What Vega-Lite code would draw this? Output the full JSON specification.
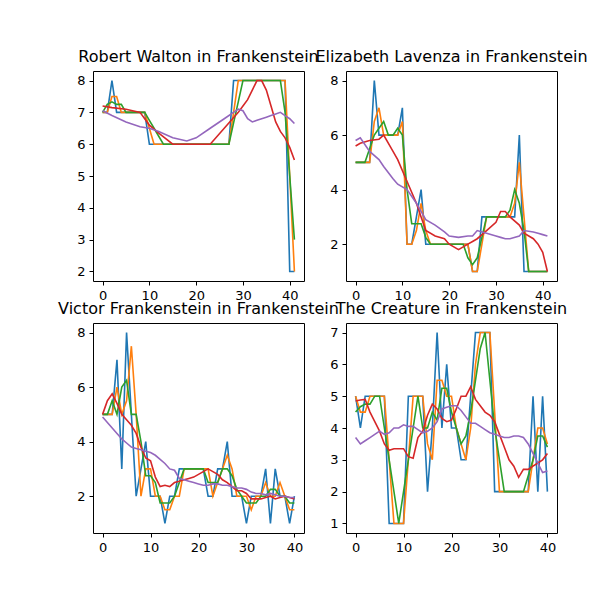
{
"$schema":"https://vega.github.io/schema/vega-lite/v6.json",
"padding":{"left":57,"top":48,"right":0,"bottom":0},
"autosize":{"type":"pad"},
"bounds":"flush",
"columns":2,
"spacing":{"row":42,"column":42},
"config":{
"view":{"stroke":"black","strokeWidth":1},
"font":"DejaVu Sans",
"title":{"fontSize":16,"fontWeight":"normal","color":"black","offset":6,"anchor":"middle","font":"DejaVu Sans"},
"axis":{"grid":false,"title":null,"domain":false,"tickColor":"black","tickSize":4,"labelFontSize":13,"labelColor":"black","labelPadding":4,"labelFont":"DejaVu Sans"},
"line":{"strokeWidth":1.6}
},
"datasets":{
"W":[
{"x":0,"b":7,"o":7,"g":7},{"x":1,"b":7,"o":7,"g":7.25},{"x":2,"b":8,"o":7.5,"g":7.33},{"x":3,"b":7,"o":7.5,"g":7.25},{"x":4,"b":7,"o":7,"g":7.25},{"x":5,"b":7,"o":7,"g":7},{"x":6,"b":7,"o":7,"g":7},{"x":7,"b":7,"o":7,"g":7},{"x":8,"b":7,"o":7,"g":7},{"x":9,"b":7,"o":7,"g":7},{"x":10,"b":6,"o":6.5,"g":6.75},{"x":11,"b":6,"o":6,"g":6.5},{"x":12,"b":6,"o":6,"g":6.25},{"x":13,"b":6,"o":6,"g":6},{"x":14,"b":6,"o":6,"g":6},{"x":15,"b":6,"o":6,"g":6},{"x":16,"b":6,"o":6,"g":6},{"x":17,"b":6,"o":6,"g":6},{"x":18,"b":6,"o":6,"g":6},{"x":19,"b":6,"o":6,"g":6},{"x":20,"b":6,"o":6,"g":6},{"x":21,"b":6,"o":6,"g":6},{"x":22,"b":6,"o":6,"g":6},{"x":23,"b":6,"o":6,"g":6},{"x":24,"b":6,"o":6,"g":6},{"x":25,"b":6,"o":6,"g":6},{"x":26,"b":6,"o":6,"g":6},{"x":27,"b":6,"o":6,"g":6},{"x":28,"b":8,"o":7,"g":6.67},{"x":29,"b":8,"o":8,"g":7.33},{"x":30,"b":8,"o":8,"g":8},{"x":31,"b":8,"o":8,"g":8},{"x":32,"b":8,"o":8,"g":8},{"x":33,"b":8,"o":8,"g":8},{"x":34,"b":8,"o":8,"g":8},{"x":35,"b":8,"o":8,"g":8},{"x":36,"b":8,"o":8,"g":8},{"x":37,"b":8,"o":8,"g":8},{"x":38,"b":8,"o":8,"g":8},{"x":39,"b":8,"o":8,"g":7},{"x":40,"b":2,"o":5,"g":5},{"x":41,"b":2,"o":2,"g":3},
{"x":0,"r":7.2,"p":7.05},{"x":2,"r":7.15,"p":6.9},{"x":5,"r":7.1,"p":6.7},{"x":8,"r":7.0,"p":6.55},{"x":10,"r":6.6,"p":6.5},{"x":12,"r":6.35,"p":6.4},{"x":15,"r":6.0,"p":6.2},{"x":18,"r":6.0,"p":6.1},{"x":20,"r":6.0,"p":6.2},{"x":23,"r":6.0,"p":6.5},{"x":26,"r":6.5,"p":6.8},{"x":29,"r":7.0,"p":7.1},{"x":30,"r":7.2,"p":7.05},{"x":31,"r":7.4,"p":6.8},{"x":32,"r":7.7,"p":6.7},{"x":33,"r":8.0,"p":6.75},{"x":34,"r":8.0,"p":6.8},{"x":35,"r":7.7,"p":6.85},{"x":36,"r":7.2,"p":6.9},{"x":37,"r":6.7,"p":6.95},{"x":38,"r":6.4,"p":7.0},{"x":39,"r":6.2,"p":6.9},{"x":40,"r":5.9,"p":6.8},{"x":41,"r":5.5,"p":6.65}
],
"E":[
{"x":0,"b":5,"o":5,"g":5},{"x":1,"b":5,"o":5,"g":5},{"x":2,"b":5,"o":5,"g":5},{"x":3,"b":5,"o":5,"g":5.5},{"x":4,"b":8,"o":6.5,"g":6},{"x":5,"b":6,"o":7,"g":6.25},{"x":6,"b":6,"o":6,"g":6.5},{"x":7,"b":6,"o":6,"g":6},{"x":8,"b":6,"o":6,"g":6},{"x":9,"b":6,"o":6,"g":6.25},{"x":10,"b":7,"o":6.5,"g":6},{"x":11,"b":2,"o":2,"g":4},{"x":12,"b":2,"o":2,"g":2.75},{"x":13,"b":3,"o":2.5,"g":2.75},{"x":14,"b":4,"o":3.5,"g":2.75},{"x":15,"b":2,"o":2.5,"g":2.25},{"x":16,"b":2,"o":2,"g":2},{"x":17,"b":2,"o":2,"g":2},{"x":18,"b":2,"o":2,"g":2},{"x":19,"b":2,"o":2,"g":2},{"x":20,"b":2,"o":2,"g":2},{"x":21,"b":2,"o":2,"g":2},{"x":22,"b":2,"o":2,"g":2},{"x":23,"b":2,"o":2,"g":2},{"x":24,"b":2,"o":2,"g":1.5},{"x":25,"b":1,"o":1,"g":1.25},{"x":26,"b":1,"o":1,"g":1.5},{"x":27,"b":3,"o":2,"g":2.25},{"x":28,"b":3,"o":3,"g":3},{"x":29,"b":3,"o":3,"g":3},{"x":30,"b":3,"o":3,"g":3},{"x":31,"b":3,"o":3,"g":3},{"x":32,"b":3,"o":3,"g":3},{"x":33,"b":3,"o":3,"g":3.25},{"x":34,"b":3,"o":3.5,"g":4},{"x":35,"b":6,"o":5,"g":3.5},{"x":36,"b":1,"o":3,"g":2.5},{"x":37,"b":1,"o":1,"g":1},{"x":38,"b":1,"o":1,"g":1},{"x":39,"b":1,"o":1,"g":1},{"x":40,"b":1,"o":1,"g":1},{"x":41,"b":1,"o":1,"g":1},
{"x":0,"r":5.6,"p":5.8},{"x":1,"r":5.7,"p":5.9},{"x":3,"r":5.8,"p":5.4},{"x":5,"r":5.85,"p":5.1},{"x":6,"r":6.0,"p":4.85},{"x":8,"r":5.4,"p":4.4},{"x":9,"r":5.1,"p":4.2},{"x":11,"r":4.3,"p":4.0},{"x":13,"r":3.5,"p":3.5},{"x":14,"r":3.0,"p":3.2},{"x":15,"r":2.5,"p":2.9},{"x":17,"r":2.3,"p":2.7},{"x":19,"r":2.2,"p":2.45},{"x":20,"r":2.0,"p":2.3},{"x":22,"r":1.8,"p":2.25},{"x":24,"r":2.0,"p":2.3},{"x":25,"r":2.1,"p":2.3},{"x":26,"r":2.2,"p":2.5},{"x":28,"r":2.5,"p":2.4},{"x":30,"r":2.8,"p":2.3},{"x":31,"r":3.2,"p":2.25},{"x":32,"r":3.2,"p":2.2},{"x":33,"r":3.0,"p":2.2},{"x":35,"r":2.7,"p":2.3},{"x":36,"r":2.4,"p":2.5},{"x":38,"r":2.2,"p":2.45},{"x":39,"r":2.0,"p":2.4},{"x":40,"r":1.7,"p":2.35},{"x":41,"r":1.0,"p":2.3}
],
"V":[
{"x":0,"b":5,"o":5,"g":5},{"x":1,"b":5,"o":5,"g":5},{"x":2,"b":5,"o":5,"g":5.5},{"x":3,"b":7,"o":6,"g":5},{"x":4,"b":3,"o":5,"g":6},{"x":5,"b":8,"o":5.5,"g":6.25},{"x":6,"b":5,"o":7.5,"g":5},{"x":7,"b":2,"o":5,"g":5},{"x":8,"b":3,"o":2,"g":4},{"x":9,"b":4,"o":3,"g":2.75},{"x":10,"b":2,"o":3,"g":2.75},{"x":11,"b":2,"o":2,"g":2.5},{"x":12,"b":2,"o":2,"g":1.75},{"x":13,"b":1,"o":1.5,"g":1.75},{"x":14,"b":2,"o":1.5,"g":1.75},{"x":15,"b":2,"o":2,"g":2},{"x":16,"b":3,"o":2,"g":2.5},{"x":17,"b":3,"o":3,"g":3},{"x":18,"b":3,"o":3,"g":3},{"x":19,"b":3,"o":3,"g":3},{"x":20,"b":3,"o":3,"g":3},{"x":21,"b":3,"o":3,"g":3},{"x":22,"b":2,"o":3,"g":2.5},{"x":23,"b":2,"o":2,"g":2.5},{"x":24,"b":3,"o":2.5,"g":2.5},{"x":25,"b":3,"o":3,"g":3},{"x":26,"b":4,"o":3.5,"g":3},{"x":27,"b":2,"o":3,"g":2.75},{"x":28,"b":2,"o":2,"g":2.25},{"x":29,"b":2,"o":2,"g":2},{"x":30,"b":1,"o":2,"g":1.75},{"x":31,"b":2,"o":1.5,"g":1.75},{"x":32,"b":2,"o":2,"g":1.75},{"x":33,"b":2,"o":2,"g":2},{"x":34,"b":3,"o":2.5,"g":2},{"x":35,"b":1,"o":2,"g":2.25},{"x":36,"b":3,"o":2,"g":2.25},{"x":37,"b":2,"o":2.5,"g":2},{"x":38,"b":2,"o":2,"g":2},{"x":39,"b":1,"o":1.5,"g":1.75},{"x":40,"b":2,"o":1.5,"g":1.75},
{"x":0,"r":5.0,"p":4.9},{"x":1,"r":5.5,"p":4.7},{"x":2,"r":5.75,"p":4.5},{"x":3,"r":5.4,"p":4.3},{"x":4,"r":5.0,"p":4.1},{"x":5,"r":4.8,"p":3.95},{"x":6,"r":4.6,"p":3.8},{"x":7,"r":4.3,"p":3.75},{"x":8,"r":3.8,"p":3.7},{"x":9,"r":3.4,"p":3.65},{"x":10,"r":3.3,"p":3.6},{"x":11,"r":2.7,"p":3.5},{"x":12,"r":2.35,"p":3.35},{"x":13,"r":2.4,"p":3.2},{"x":14,"r":2.35,"p":3.0},{"x":15,"r":2.5,"p":2.95},{"x":16,"r":2.55,"p":2.65},{"x":17,"r":2.6,"p":2.6},{"x":18,"r":2.65,"p":2.55},{"x":19,"r":2.7,"p":2.5},{"x":20,"r":2.8,"p":2.45},{"x":21,"r":2.9,"p":2.4},{"x":22,"r":3.0,"p":2.4},{"x":23,"r":2.9,"p":2.45},{"x":24,"r":2.8,"p":2.45},{"x":25,"r":2.6,"p":2.4},{"x":26,"r":2.5,"p":2.4},{"x":27,"r":2.35,"p":2.35},{"x":28,"r":2.2,"p":2.3},{"x":29,"r":2.2,"p":2.3},{"x":30,"r":2.1,"p":2.25},{"x":31,"r":1.9,"p":2.15},{"x":32,"r":1.9,"p":2.1},{"x":33,"r":1.9,"p":2.1},{"x":34,"r":1.95,"p":2.05},{"x":35,"r":2.0,"p":2.1},{"x":36,"r":1.9,"p":2.05},{"x":37,"r":1.95,"p":2.0},{"x":38,"r":2.0,"p":2.0},{"x":39,"r":1.95,"p":1.95},{"x":40,"r":1.9,"p":1.95}
],
"C":[
{"x":0,"b":5,"o":5,"g":4.5},{"x":1,"b":4,"o":4.5,"g":4.67},{"x":2,"b":5,"o":4.5,"g":4.75},{"x":3,"b":5,"o":5,"g":4.75},{"x":4,"b":5,"o":5,"g":5},{"x":5,"b":5,"o":5,"g":5},{"x":6,"b":5,"o":5,"g":4},{"x":7,"b":1,"o":3,"g":3},{"x":8,"b":1,"o":1,"g":2},{"x":9,"b":1,"o":1,"g":1},{"x":10,"b":1,"o":1,"g":2},{"x":11,"b":5,"o":3,"g":3},{"x":12,"b":5,"o":5,"g":4},{"x":13,"b":5,"o":5,"g":5},{"x":14,"b":5,"o":5,"g":4},{"x":15,"b":2,"o":3.5,"g":4},{"x":16,"b":4,"o":3,"g":4.5},{"x":17,"b":7,"o":5.5,"g":4.25},{"x":18,"b":4,"o":5.5,"g":5.25},{"x":19,"b":6,"o":5,"g":5.25},{"x":20,"b":4,"o":5,"g":4.5},{"x":21,"b":4,"o":4,"g":4},{"x":22,"b":3,"o":3.5,"g":3.5},{"x":23,"b":3,"o":3,"g":3.75},{"x":24,"b":5,"o":4,"g":4.5},{"x":25,"b":7,"o":6,"g":5.5},{"x":26,"b":7,"o":7,"g":6.5},{"x":27,"b":7,"o":7,"g":7},{"x":28,"b":7,"o":7,"g":5.5},{"x":29,"b":2,"o":4.5,"g":4},{"x":30,"b":2,"o":2,"g":3},{"x":31,"b":2,"o":2,"g":2},{"x":32,"b":2,"o":2,"g":2},{"x":33,"b":2,"o":2,"g":2},{"x":34,"b":2,"o":2,"g":2},{"x":35,"b":2,"o":2,"g":2},{"x":36,"b":2,"o":2,"g":2.5},{"x":37,"b":5,"o":3,"g":3},{"x":38,"b":2,"o":4,"g":3.75},{"x":39,"b":5,"o":4,"g":3.75},{"x":40,"b":2,"o":3.5,"g":3.4},
{"x":0,"r":4.85,"p":3.7},{"x":1,"r":4.88,"p":3.5},{"x":2,"r":4.9,"p":3.6},{"x":3,"r":4.5,"p":3.7},{"x":4,"r":4.2,"p":3.8},{"x":5,"r":3.9,"p":3.9},{"x":6,"r":3.5,"p":3.8},{"x":7,"r":3.3,"p":3.85},{"x":8,"r":3.35,"p":4.0},{"x":9,"r":3.35,"p":4.0},{"x":10,"r":3.35,"p":4.1},{"x":11,"r":3.1,"p":4.05},{"x":12,"r":3.05,"p":4.05},{"x":13,"r":3.7,"p":3.95},{"x":14,"r":3.9,"p":3.85},{"x":15,"r":4.4,"p":3.9},{"x":16,"r":4.75,"p":4.0},{"x":17,"r":4.6,"p":4.2},{"x":18,"r":4.3,"p":4.6},{"x":19,"r":4.2,"p":4.65},{"x":20,"r":4.25,"p":4.7},{"x":21,"r":4.6,"p":4.7},{"x":22,"r":5.0,"p":4.55},{"x":23,"r":5.0,"p":4.35},{"x":24,"r":5.3,"p":4.15},{"x":25,"r":4.9,"p":4.15},{"x":26,"r":4.7,"p":4.05},{"x":27,"r":4.5,"p":3.95},{"x":28,"r":4.4,"p":3.85},{"x":29,"r":4.2,"p":3.8},{"x":30,"r":3.8,"p":3.75},{"x":31,"r":3.4,"p":3.7},{"x":32,"r":3.0,"p":3.7},{"x":33,"r":2.8,"p":3.75},{"x":34,"r":2.45,"p":3.75},{"x":35,"r":2.7,"p":3.7},{"x":36,"r":2.7,"p":3.5},{"x":37,"r":2.8,"p":3.2},{"x":38,"r":2.9,"p":2.9},{"x":39,"r":3.0,"p":2.6},{"x":40,"r":3.2,"p":2.65}
]
},
"concat":[
{"title":"Robert Walton in Frankenstein","width":211,"height":210,"data":{"name":"W"},
"transform":[{"fold":["b","o","g","r","p"],"as":["k","v"]},{"filter":"isValid(datum.v)"}],
"mark":"line",
"encoding":{"x":{"field":"x","type":"quantitative","scale":{"domain":[-2.05,43.05],"nice":false},"axis":{"values":[0,10,20,30,40]}},
"y":{"field":"v","type":"quantitative","scale":{"domain":[1.7,8.3],"nice":false,"zero":false},"axis":{"values":[2,3,4,5,6,7,8]}},
"color":{"field":"k","scale":{"domain":["b","o","g","r","p"],"range":["#1f77b4","#ff7f0e","#2ca02c","#d62728","#9467bd"]},"legend":null}}},
{"title":"Elizabeth Lavenza in Frankenstein","width":211,"height":210,"data":{"name":"E"},
"transform":[{"fold":["b","o","g","r","p"],"as":["k","v"]},{"filter":"isValid(datum.v)"}],
"mark":"line",
"encoding":{"x":{"field":"x","type":"quantitative","scale":{"domain":[-2.05,43.05],"nice":false},"axis":{"values":[0,10,20,30,40]}},
"y":{"field":"v","type":"quantitative","scale":{"domain":[0.65,8.35],"nice":false,"zero":false},"axis":{"values":[2,4,6,8]}},
"color":{"field":"k","scale":{"domain":["b","o","g","r","p"],"range":["#1f77b4","#ff7f0e","#2ca02c","#d62728","#9467bd"]},"legend":null}}},
{"title":"Victor Frankenstein in Frankenstein","width":211,"height":210,"data":{"name":"V"},
"transform":[{"fold":["b","o","g","r","p"],"as":["k","v"]},{"filter":"isValid(datum.v)"}],
"mark":"line",
"encoding":{"x":{"field":"x","type":"quantitative","scale":{"domain":[-2,42],"nice":false},"axis":{"values":[0,10,20,30,40]}},
"y":{"field":"v","type":"quantitative","scale":{"domain":[0.65,8.35],"nice":false,"zero":false},"axis":{"values":[2,4,6,8]}},
"color":{"field":"k","scale":{"domain":["b","o","g","r","p"],"range":["#1f77b4","#ff7f0e","#2ca02c","#d62728","#9467bd"]},"legend":null}}},
{"title":"The Creature in Frankenstein","width":211,"height":210,"data":{"name":"C"},
"transform":[{"fold":["b","o","g","r","p"],"as":["k","v"]},{"filter":"isValid(datum.v)"}],
"mark":"line",
"encoding":{"x":{"field":"x","type":"quantitative","scale":{"domain":[-2,42],"nice":false},"axis":{"values":[0,10,20,30,40]}},
"y":{"field":"v","type":"quantitative","scale":{"domain":[0.7,7.3],"nice":false,"zero":false},"axis":{"values":[1,2,3,4,5,6,7]}},
"color":{"field":"k","scale":{"domain":["b","o","g","r","p"],"range":["#1f77b4","#ff7f0e","#2ca02c","#d62728","#9467bd"]},"legend":null}}}
]
}
